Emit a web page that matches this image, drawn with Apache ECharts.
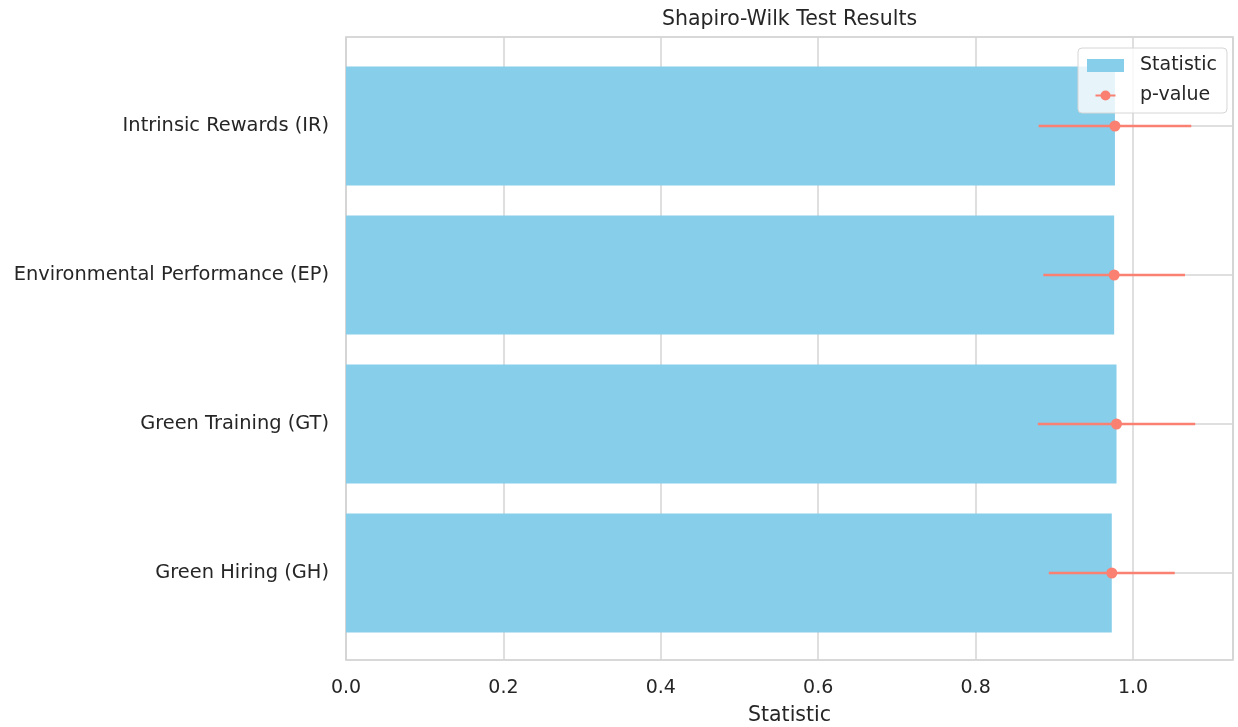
<!DOCTYPE html>
<html>
<head>
<meta charset="utf-8">
<title>Shapiro-Wilk Test Results</title>
<script src="https://cdn.jsdelivr.net/npm/echarts@6/dist/echarts.min.js"></script>
<style>
  html, body { margin: 0; padding: 0; background: #ffffff; }
  #chart { width: 1238px; height: 727px; }
</style>
</head>
<body>
<div id="chart"></div>
<script>
// Constructs, listed bottom to top as on the category axis
const categories = [
  'Green Hiring (GH)',
  'Green Training (GT)',
  'Environmental Performance (EP)',
  'Intrinsic Rewards (IR)'
];
// Shapiro-Wilk W statistic per construct
const statistic = [0.973, 0.979, 0.976, 0.977];
// p-value per construct, drawn as a horizontal error span around the statistic
const pValues = [0.080, 0.100, 0.090, 0.097];
// Horizontal axis range and tick step
const xMin = 0;
const xMax = 1.127;
const xStep = 0.2;

const TEXT = '#262626';
const GRID_LINE = '#d4d4d4';
const FONT = 'DejaVu Sans';

const chart = echarts.init(document.getElementById('chart'), null, { renderer: 'canvas' });

const errorRows = statistic.map((s, i) => [s, pValues[i], i]);

const option = {
  backgroundColor: '#ffffff',
  animation: false,
  textStyle: { fontFamily: FONT },
  title: {
    text: 'Shapiro-Wilk Test Results',
    left: 789.5,
    top: 9,
    padding: 0,
    textAlign: 'center',
    textStyle: { fontFamily: FONT, fontSize: 20.5, fontWeight: 'normal', color: TEXT }
  },
  legend: {
    orient: 'vertical',
    left: 1078,
    top: 48,
    padding: [8, 10, 8, 9],
    itemGap: 11,
    itemWidth: 37,
    itemHeight: 13,
    backgroundColor: 'rgba(255,255,255,0.8)',
    borderColor: '#d6d6d6',
    borderWidth: 1,
    borderRadius: 4,
    textStyle: { fontFamily: FONT, fontSize: 19, color: TEXT, padding: [0, 0, 0, 11] },
    data: [
      { name: 'Statistic', icon: 'rect', itemStyle: { color: '#87CEEB' } },
      {
        name: 'p-value',
        icon: 'path://M0,0 M36,13 M8,5.5 L28,5.5 L28,7.5 L8,7.5 Z M23,6.5 A5,5 0 1,1 13,6.5 A5,5 0 1,1 23,6.5 Z',
        itemStyle: { color: '#FA8072' }
      }
    ]
  },
  grid: [
    // frame, vertical grid lines and x ticks
    {
      left: 346, right: 5, top: 37, bottom: 67,
      outerBoundsMode: 'none', containLabel: false,
      show: true, borderColor: '#cccccc', borderWidth: 1.5, backgroundColor: 'transparent'
    },
    // bar area
    { left: 346, right: 5, top: 51.5, bottom: 79.5, outerBoundsMode: 'none', containLabel: false }
  ],
  xAxis: [
    {
      gridIndex: 0,
      type: 'value',
      min: xMin,
      max: xMax,
      interval: xStep,
      axisLine: { show: false },
      axisTick: { show: false },
      axisLabel: {
        fontFamily: FONT, fontSize: 19, color: TEXT, margin: 19,
        showMaxLabel: false,
        formatter: v => v.toFixed(1)
      },
      splitLine: { show: true, lineStyle: { color: GRID_LINE, width: 1.5 } },
      name: 'Statistic',
      nameLocation: 'middle',
      nameGap: 45,
      nameTextStyle: { fontFamily: FONT, fontSize: 20.5, color: TEXT }
    },
    {
      gridIndex: 1,
      type: 'value',
      min: xMin,
      max: xMax,
      show: false
    }
  ],
  yAxis: [
    { gridIndex: 0, type: 'value', show: false, splitLine: { show: false } },
    {
      gridIndex: 1,
      type: 'category',
      data: categories,
      axisLine: { show: false },
      axisTick: { show: false },
      splitLine: { show: false },
      axisLabel: { fontFamily: FONT, fontSize: 19.4, color: TEXT, margin: 17 }
    }
  ],
  series: [
    {
      // horizontal grid lines through each category
      type: 'line',
      xAxisIndex: 1,
      yAxisIndex: 1,
      data: [],
      silent: true,
      z: 1,
      markLine: {
        z: 1,
        silent: true,
        symbol: 'none',
        label: { show: false },
        lineStyle: { color: GRID_LINE, width: 1.5, type: 'solid' },
        data: categories.map(c => [{ coord: [xMin, c] }, { coord: [xMax, c] }])
      }
    },
    {
      name: 'Statistic',
      type: 'bar',
      xAxisIndex: 1,
      yAxisIndex: 1,
      data: statistic,
      barWidth: '80%',
      itemStyle: { color: '#87CEEB' },
      z: 2
    },
    {
      name: 'p-value',
      type: 'custom',
      xAxisIndex: 1,
      yAxisIndex: 1,
      data: errorRows,
      encode: { x: 0, y: 2 },
      z: 3,
      itemStyle: { color: '#FA8072' },
      renderItem: function (params, api) {
        const s = api.value(0);
        const p = api.value(1);
        const c = api.value(2);
        const lo = api.coord([s - p, c]);
        const hi = api.coord([s + p, c]);
        const mid = api.coord([s, c]);
        return {
          type: 'group',
          children: [
            {
              type: 'line',
              shape: { x1: lo[0], y1: lo[1], x2: hi[0], y2: hi[1] },
              style: { stroke: '#FA8072', lineWidth: 2.5 }
            },
            {
              type: 'circle',
              shape: { cx: mid[0], cy: mid[1], r: 5.5 },
              style: { fill: '#FA8072' }
            }
          ]
        };
      }
    }
  ]
};

chart.setOption(option);
</script>
</body>
</html>
